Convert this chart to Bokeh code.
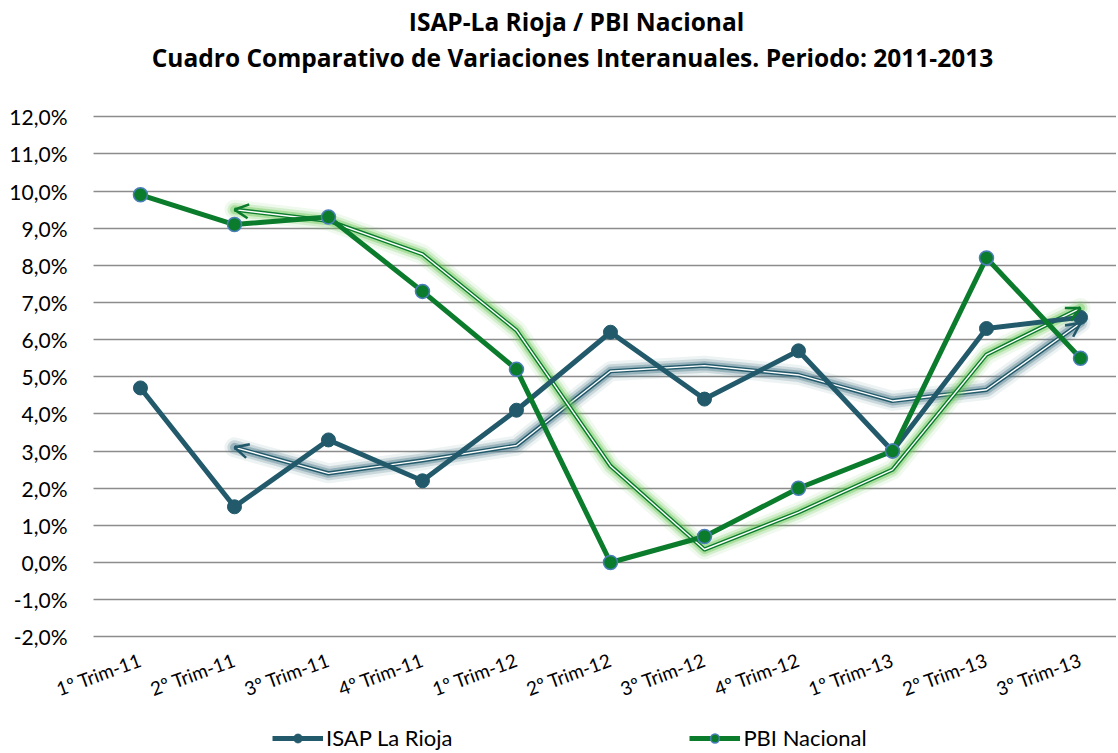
from bokeh.plotting import figure
from bokeh.models import (Range1d, FixedTicker, Legend, LegendItem, Arrow, OpenHead, Label)
from bokeh.embed import file_html
from bokeh.resources import INLINE

categories = ["1º Trim-11", "2º Trim-11", "3º Trim-11", "4º Trim-11",
              "1º Trim-12", "2º Trim-12", "3º Trim-12", "4º Trim-12",
              "1º Trim-13", "2º Trim-13", "3º Trim-13"]
isap = [4.7, 1.5, 3.3, 2.2, 4.1, 6.2, 4.4, 5.7, 3.0, 6.3, 6.6]
pbi = [9.9, 9.1, 9.3, 7.3, 5.2, 0.0, 0.7, 2.0, 3.0, 8.2, 5.5]
y_ticks = [-2, -1, 0, 1, 2, 3, 4, 5, 6, 7, 8, 9, 10, 11, 12]
y_tick_labels = ["-2,0%", "-1,0%", "0,0%", "1,0%", "2,0%", "3,0%", "4,0%", "5,0%",
                 "6,0%", "7,0%", "8,0%", "9,0%", "10,0%", "11,0%", "12,0%"]
title_line1 = "ISAP-La Rioja / PBI Nacional"
title_line2 = "Cuadro Comparativo de Variaciones Interanuales. Periodo: 2011-2013"
series_names = ["ISAP La Rioja", "PBI Nacional"]

ISAP_COLOR = "#225a6b"
PBI_COLOR = "#0b7b2c"
PBI_EDGE = "#4a7ebb"
FONT = "Lato"
TITLE_FONT = "Open Sans"

W, H = 1116, 751
x = list(range(len(categories)))
X_START, X_END = -1.489, 10.383
PLOT_LEFT = -0.5   # left edge of the gridded plot area (half a category before the first)

# 2-period moving average trend lines (as in the original spreadsheet)
def moving_avg(v):
    return [(v[i - 1] + v[i]) / 2 for i in range(1, len(v))]

tx = x[1:]
isap_tr = moving_avg(isap)
pbi_tr = moving_avg(pbi)

p = figure(width=W, height=H, output_backend="svg", toolbar_location=None,
           x_range=Range1d(X_START, X_END), y_range=Range1d(-5.089, 15.132),
           min_border_left=0, min_border_right=0, min_border_top=0,
           min_border_bottom=0)
p.outline_line_color = None
p.background_fill_color = "white"
p.border_fill_color = "white"

p.xgrid.grid_line_color = None
p.ygrid.ticker = FixedTicker(ticks=y_ticks)
p.ygrid.cross_bounds = (PLOT_LEFT, X_END)
p.ygrid.grid_line_color = "#8c8c8c"
p.ygrid.grid_line_width = 1.6

# y axis, pinned to the left edge of the plot area
p.yaxis.fixed_location = PLOT_LEFT
p.yaxis.ticker = FixedTicker(ticks=y_ticks)
p.yaxis.major_label_overrides = {t: l for t, l in zip(y_ticks, y_tick_labels)}
p.yaxis.axis_line_color = None
p.yaxis.major_tick_line_color = None
p.yaxis.minor_tick_line_color = None
p.yaxis.major_label_standoff = 20
p.yaxis.major_label_text_font = FONT
p.yaxis.major_label_text_font_size = "21px"
p.yaxis.major_label_text_color = "#000000"

# x axis, pinned to the bottom gridline
p.xaxis.fixed_location = y_ticks[0]
p.xaxis.ticker = FixedTicker(ticks=x)
p.xaxis.major_label_overrides = {i: c for i, c in zip(x, categories)}
p.xaxis.axis_line_color = None
p.xaxis.major_tick_line_color = None
p.xaxis.minor_tick_line_color = None
p.xaxis.major_label_orientation = 0.35
p.xaxis.major_label_standoff = 16
p.xaxis.major_label_text_font = FONT
p.xaxis.major_label_text_font_size = "19px"
p.xaxis.major_label_text_color = "#000000"

# trend lines: glow + double line
for tr, col, glow in [(isap_tr, ISAP_COLOR, "#4f7c8c"), (pbi_tr, PBI_COLOR, "#6cc858")]:
    p.line(tx, tr, line_color=glow, line_width=20, line_alpha=0.10, line_join="round", line_cap="round")
    p.line(tx, tr, line_color=glow, line_width=14, line_alpha=0.22, line_join="round", line_cap="round")
    p.line(tx, tr, line_color=glow, line_width=9, line_alpha=0.40, line_join="round", line_cap="round")
    p.line(tx, tr, line_color=col, line_width=4.2, line_join="round")
    p.line(tx, tr, line_color="white", line_width=1.4, line_join="round")
    p.add_layout(Arrow(x_start=tx[1], y_start=tr[1], x_end=tx[0], y_end=tr[0],
                       line_alpha=0, end=OpenHead(size=14, line_color=col, line_width=2.6)))
    p.add_layout(Arrow(x_start=tx[-2], y_start=tr[-2], x_end=tx[-1], y_end=tr[-1],
                       line_alpha=0, end=OpenHead(size=14, line_color=col, line_width=2.6)))

# main series
l1 = p.line(x, isap, line_color=ISAP_COLOR, line_width=5, line_join="round")
s1 = p.scatter(x, isap, size=14, fill_color=ISAP_COLOR, line_color=ISAP_COLOR)
l2 = p.line(x, pbi, line_color=PBI_COLOR, line_width=5, line_join="round")
s2 = p.scatter(x, pbi, size=14, fill_color=PBI_COLOR, line_color=PBI_EDGE, line_width=1.5)

legend = Legend(items=[LegendItem(label=series_names[0], renderers=[l1, s1]),
                       LegendItem(label=series_names[1], renderers=[l2, s2])],
                orientation="horizontal", location=(272, 0),
                border_line_color=None, background_fill_alpha=0,
                label_text_font=FONT, label_text_font_size="22px",
                label_text_color="#000000", glyph_width=51, glyph_height=22,
                spacing=237, label_standoff=3, padding=0, margin=0)
p.add_layout(legend, "center")

# two-line title (screen units measured from the frame's bottom-left)
p.add_layout(Label(x=576, y=H - 21, x_units="screen", y_units="screen", text=title_line1,
                   text_align="center", text_baseline="middle", text_font=TITLE_FONT,
                   text_font_style="bold", text_font_size="24.5px", text_color="#000000"))
p.add_layout(Label(x=572, y=H - 57, x_units="screen", y_units="screen", text=title_line2,
                   text_align="center", text_baseline="middle", text_font=TITLE_FONT,
                   text_font_style="bold", text_font_size="24.5px", text_color="#000000"))

open("out.html", "w").write(file_html(p, INLINE))
